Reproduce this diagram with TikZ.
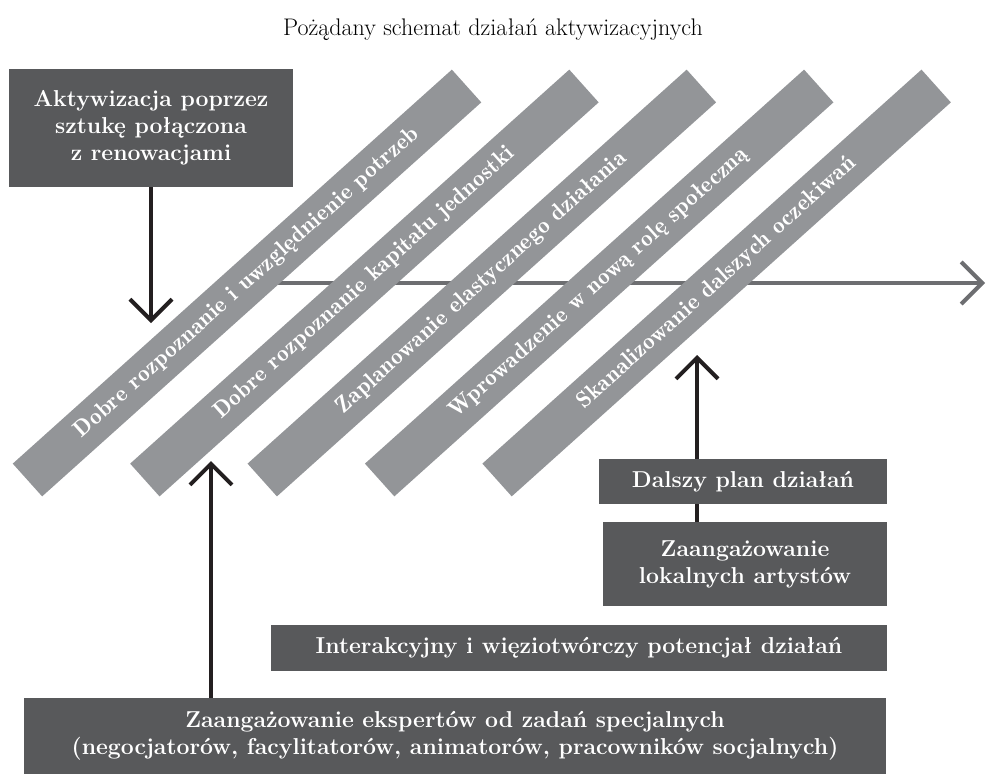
\documentclass[tikz,border=0pt]{standalone}
\usepackage{fontspec}
\usetikzlibrary{positioning,arrows.meta}

\IfFontExistsTF{Latin Modern Roman Demi}
    {\newfontfamily\pasfont[LetterSpace=2]{Latin Modern Roman Demi}}
    {\newfontfamily\pasfont[LetterSpace=5]{Latin Modern Roman}}

\definecolor{ciemny}{HTML}{58595B}
\definecolor{pasek}{HTML}{939598}
\definecolor{osgrey}{HTML}{6D6E71}
\definecolor{czarny}{HTML}{231F20}

\begin{document}
\begin{tikzpicture}[x=1pt, y=-1pt]

    % style
    \tikzstyle{blok}=[fill=ciemny, text=white, align=center, inner sep=0pt,
        font=\bfseries\fontsize{23}{27}\selectfont]
    \tikzstyle{pas}=[fill=pasek, text=white, rotate=41.9, inner sep=0pt,
        minimum width=590pt, minimum height=44pt, font=\pasfont\fontsize{23}{26}\selectfont]
    \tikzstyle{strzalka}=[czarny, line width=4pt, -{Straight Barb[length=21pt, width=42pt]}]
    \tikzstyle{oscz}=[osgrey, line width=4pt, -{Straight Barb[length=21pt, width=42pt]}]

    \useasboundingbox (0,0) rectangle (987,776);

    % tytul
    \node[font=\fontsize{24}{27}\selectfont] (tytul) at (493,30) {Pożądany schemat działań aktywizacyjnych};

    % os czasu (pod paskami)
    \coordinate (osPoczatek) at (247,283);
    \coordinate (osKoniec) at (985,283);
    \draw[oscz] (osPoczatek) -- (osKoniec);

    % paski ukosne
    \foreach \i/\tekst in {0/Dobre rozpoznanie i uwzględnienie potrzeb,
                           1/Dobre rozpoznanie kapitału jednostki,
                           2/Zaplanowanie elastycznego działania,
                           3/Wprowadzenie w nową rolę społeczną,
                           4/Skanalizowanie dalszych oczekiwań}
        \node[pas] (pas\i) at (247+117.4*\i,283) {\tekst};

    % blok gorny
    \node[blok, minimum width=284pt, minimum height=118pt] (sztuka) at (151,128)
        {Aktywizacja poprzez\\sztukę połączona\\z renowacjami};
    \coordinate (sztukaGrot) at (151,323);
    \draw[strzalka] (sztuka.south) -- (sztukaGrot);

    % bloki po prawej
    \node[blok, minimum width=284pt, minimum height=84pt] (artysci) at (745,564)
        {Zaangażowanie\\lokalnych artystów};
    \coordinate (planGrot) at (697,355);
    \draw[strzalka] (artysci.north -| planGrot) -- (planGrot);
    \node[blok, minimum width=288pt, minimum height=45pt] (plan) at (743,481.5)
        {Dalszy plan działań};

    % bloki dolne
    \node[blok, minimum width=616pt, minimum height=46pt] (potencjal) at (579,648)
        {Interakcyjny i więziotwórczy potencjał działań};
    \node[blok, minimum width=862pt, minimum height=76pt] (eksperci) at (455,736)
        {Zaangażowanie ekspertów od zadań specjalnych\\(negocjatorów, facylitatorów, animatorów, pracowników socjalnych)};
    \coordinate (eksperciGrot) at (211,461);
    \draw[strzalka] (eksperci.north -| eksperciGrot) -- (eksperciGrot);

\end{tikzpicture}
\end{document}
